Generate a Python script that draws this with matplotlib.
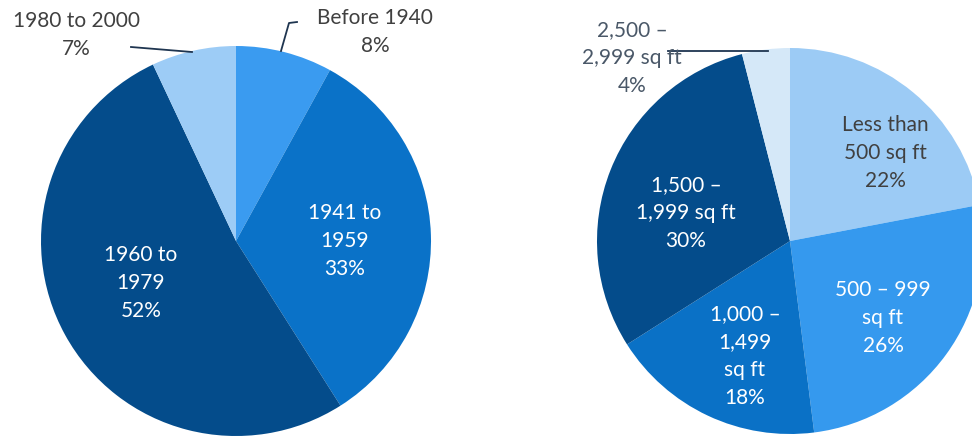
import matplotlib
matplotlib.use("Agg")
import matplotlib.pyplot as plt

# left pie: year built
age_labels = ["Before 1940", "1941 to 1959", "1960 to 1979", "1980 to 2000"]
age_share = [8, 33, 52, 7]
age_colors = ["#3a9bf0", "#0a72c8", "#044c8b", "#9dccf6"]

# right pie: unit size
size_labels = ["Less than 500 sq ft", "500 – 999 sq ft", "1,000 – 1,499 sq ft",
               "1,500 – 1,999 sq ft", "2,500 – 2,999 sq ft"]
size_share = [22, 26, 18, 30, 4]
size_colors = ["#9ccbf5", "#3599ee", "#0a71c6", "#044c8b", "#d5e8f8"]

H = 437
plt.rcParams["font.family"] = ["Lato", "DejaVu Sans"]
fig = plt.figure(figsize=(9.72, 4.37), dpi=100)
ax = fig.add_axes([0, 0, 1, 1])

ax.pie(age_share, colors=age_colors, startangle=90, counterclock=False,
       center=(236, H - 241), radius=195, wedgeprops=dict(linewidth=0),
       frame=True)
ax.pie(size_share, colors=size_colors, startangle=90, counterclock=False,
       center=(790, H - 241), radius=193, wedgeprops=dict(linewidth=0),
       frame=True)
ax.set_xlim(0, 972)
ax.set_ylim(0, H)
ax.set_aspect("equal")
ax.axis("off")

fs = 15
dark = "#404040"


def put(x, y, s, color):
    ax.text(x, H - y, s, ha="center", va="center", fontsize=fs, color=color,
            linespacing=1.5)


# left labels
put(375, 32, "Before 1940\n8%", dark)
put(76, 35, "1980 to 2000\n7%", dark)
put(345, 241, "1941 to\n1959\n33%", "white")
put(141, 283, "1960 to\n1979\n52%", "white")
ax.plot([281, 289, 297], [H - 51, H - 23, H - 22], color="#1f3550", lw=1.3)
ax.plot([131, 192], [H - 47, H - 52], color="#1f3550", lw=1.3)

# right labels
put(885, 153, "Less than\n500 sq ft\n22%", dark)
put(883, 318, "500 – 999\nsq ft\n26%", "white")
put(745, 356, "1,000 –\n1,499\nsq ft\n18%", "white")
put(686, 213, "1,500 –\n1,999 sq ft\n30%", "white")
put(632, 58, "2,500 –\n2,999 sq ft\n4%", "#4a5868")
ax.plot([668, 768], [H - 51, H - 51], color="#1f3550", lw=1.3)

fig.savefig("out.png", dpi=100)
